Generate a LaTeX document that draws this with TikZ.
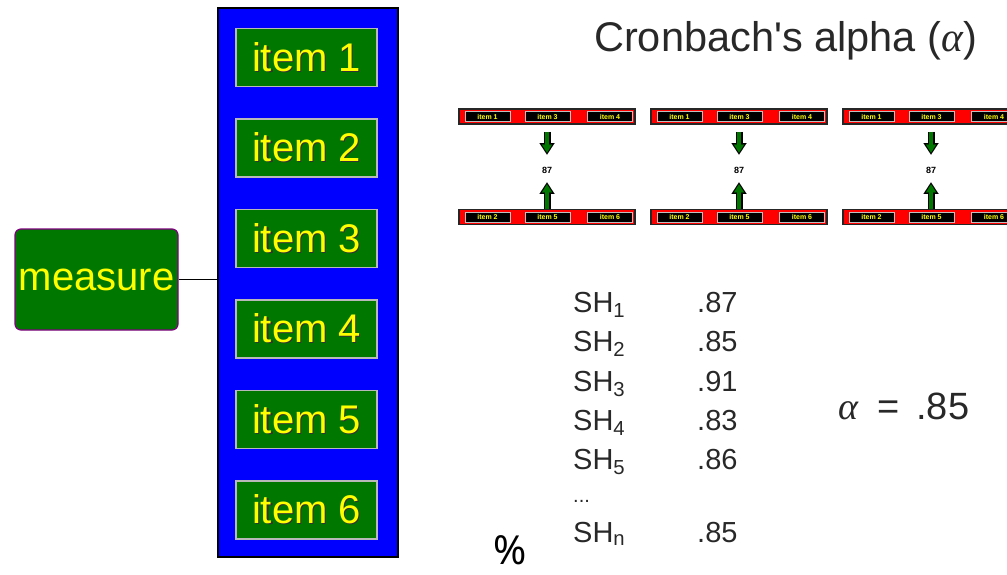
\documentclass[tikz,border=0pt]{standalone}
\usepackage{fontspec}
\setmainfont{Liberation Sans}
\newfontfamily\grk{Liberation Serif}
\newfontfamily\pctfont{Noto Sans}
\usetikzlibrary{arrows.meta}
\definecolor{bgreen}{RGB}{0,120,0}
\definecolor{pyellow}{RGB}{255,255,0}
\definecolor{pblue}{RGB}{0,0,255}
\definecolor{ppurple}{RGB}{128,0,128}
\definecolor{pred}{RGB}{255,0,0}
\definecolor{txt}{RGB}{40,40,40}
\newcommand{\fsz}[1]{\fontsize{#1}{#1}\selectfont}
\newcommand{\shadowed}[1]{\makebox[0pt][l]{\hspace{1.3pt}\raisebox{-1.3pt}{\color{black!80}#1}}#1}
\newcommand{\galpha}{{\grk\itshape α}}
\begin{document}
\begin{tikzpicture}[x=1pt,y=-1pt,
  itembox/.style={draw=gray!55, line width=1.5pt, fill=bgreen, text=pyellow,
    minimum width=141pt, minimum height=58pt, inner sep=0pt, font=\fsz{40}},
  bluebox/.style={draw=black, line width=2pt, fill=pblue, minimum width=180pt,
    minimum height=549pt, inner sep=0pt},
  measurebox/.style={draw=ppurple, line width=1.2pt, fill=bgreen, text=pyellow,
    rounded corners=6pt, minimum width=163pt, minimum height=101pt, inner sep=0pt,
    font=\fsz{40}},
  bar/.style={draw=black!85, line width=1.5pt, fill=pred, minimum width=176pt,
    minimum height=15pt, inner sep=0pt},
  minibox/.style={draw=gray!50, line width=0.8pt, fill=black, text=pyellow,
    minimum width=45pt, minimum height=10pt, inner sep=0pt, font=\fsz{7}\bfseries},
  val/.style={font=\fsz{9}\bfseries, text=black, inner sep=0pt},
  tab/.style={anchor=base west, font=\fsz{29}, text=txt, inner sep=0pt},
  blockarr/.style 2 args={draw=bgreen, line width=4pt, shorten <=#1,
    shorten >=#2+2pt, -{Triangle[width=10pt,length=8pt,line width=0.01pt]},
    preaction={draw=black, line width=7pt, shorten <=#1, shorten >=#2,
      -{Triangle[width=15pt,length=11.5pt,line width=0.01pt]}}}
]
\useasboundingbox (0,0) rectangle (1007,574);
\clip (0,0) rectangle (1007,574);

% left part
\node[bluebox] (blue) at (308,282.5) {};
\foreach \i in {1,...,6}
  \node[itembox] (it\i) at ({306.5},{57.5+90.5*(\i-1)}) {\shadowed{item \i}};
\node[measurebox] (measure) at (96.5,279.5) {measure};
\draw[line width=1.5pt] (measure.east) -- (measure.east -| blue.west);

% title
\node[anchor=base, font=\fsz{41.5}, text=txt, inner sep=0pt] (title) at (785.5,51)
  {Cronbach\textquotesingle s alpha (\galpha)};

% split-half bars
\foreach \g in {1,2,3}{
  \pgfmathsetmacro{\xo}{459+192*(\g-1)}
  \node[bar] (t\g) at ({\xo+88},116.5) {};
  \node[bar] (b\g) at ({\xo+88},217) {};
  \node[minibox] (t\g a) at ({\xo+28.5},116.5) {item 1};
  \node[minibox] (t\g b) at ({\xo+88.5},116.5) {item 3};
  \node[minibox] (t\g c) at ({\xo+151},116.5) {item 4};
  \node[minibox] (b\g a) at ({\xo+28.5},217) {item 2};
  \node[minibox] (b\g b) at ({\xo+88.5},217) {item 5};
  \node[minibox] (b\g c) at ({\xo+151},217) {item 6};
  \node[val] (v\g) at ({\xo+88},170) {87};
  \draw[blockarr={7pt}{12pt}] (t\g) -- (v\g);
  \draw[blockarr={0pt}{9pt}] (b\g) -- (v\g);
}

% table
\node[tab] (s1) at (573,312) {SH\textsubscript{1}};
\node[tab] (s2) at (573,351) {SH\textsubscript{2}};
\node[tab] (s3) at (573,391) {SH\textsubscript{3}};
\node[tab] (s4) at (573,430) {SH\textsubscript{4}};
\node[tab] (s5) at (573,469) {SH\textsubscript{5}};
\node[tab, font=\fsz{20}] (sd) at (573,502) {...};
\node[tab] (sn) at (573,542) {SH\textsubscript{n}};
\node[tab] (r1) at (697,312) {.87};
\node[tab] (r2) at (697,351) {.85};
\node[tab] (r3) at (697,391) {.91};
\node[tab] (r4) at (697,430) {.83};
\node[tab] (r5) at (697,469) {.86};
\node[tab] (rn) at (697,542) {.85};

\node[anchor=base west, font=\fsz{38}, text=txt, inner sep=0pt] (alpha) at (838,419)
  {\galpha\hspace{19pt}=\hspace{17pt}.85};

\node[anchor=base, font=\pctfont\fsz{40}, text=black, inner sep=0pt] (pct) at (510,564) {\%};
\end{tikzpicture}
\end{document}
